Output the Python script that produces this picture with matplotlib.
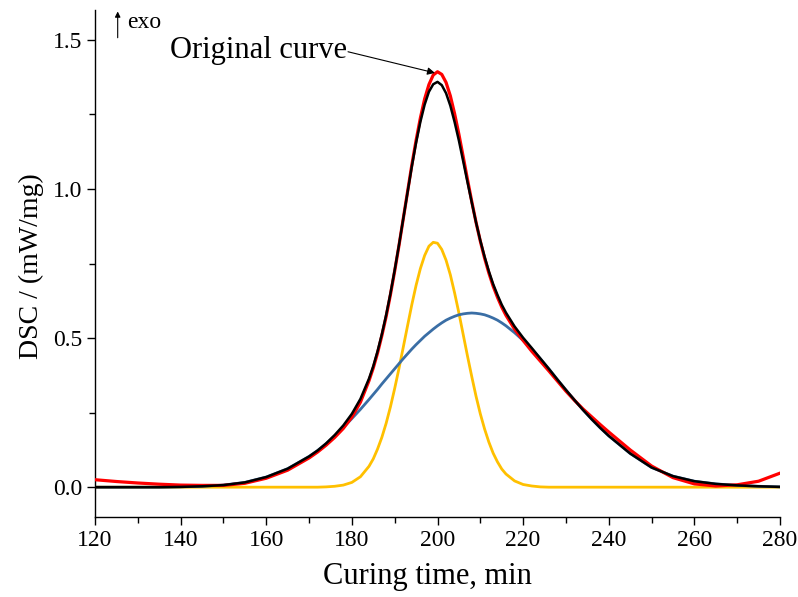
import matplotlib
matplotlib.use("Agg")
import matplotlib.pyplot as plt
from matplotlib.ticker import MultipleLocator

plt.rcParams['font.family'] = ['Liberation Serif', 'DejaVu Serif']

time_min = [120, 125, 130, 135, 140, 145, 150, 155, 160, 165, 170,
            172, 174, 176, 178, 180, 182,
            184, 185, 186, 187, 188, 189, 190, 191, 192, 193, 194, 195,
            196, 197, 198, 199, 200, 201, 202, 203, 204, 205, 206, 207,
            208, 209, 210, 211, 212, 213, 214, 215, 216,
            218, 220, 222, 224, 226, 228, 230,
            232, 234, 236, 238, 240, 245, 250, 255, 260, 265,
            270, 275, 280]

original = [0.025, 0.019, 0.014, 0.010, 0.007, 0.006, 0.006, 0.013, 0.030, 0.057, 0.098,
            0.118, 0.141, 0.167, 0.197, 0.235, 0.285,
            0.357, 0.400, 0.450, 0.508, 0.572, 0.645, 0.725, 0.810, 0.900, 0.990, 1.080, 1.163,
            1.238, 1.302, 1.350, 1.382, 1.393, 1.384, 1.357, 1.312, 1.252, 1.183, 1.108, 1.032,
            0.958, 0.888, 0.825, 0.768, 0.718, 0.674, 0.637, 0.604, 0.576,
            0.530, 0.492, 0.456, 0.423, 0.390, 0.356, 0.322,
            0.291, 0.262, 0.236, 0.210, 0.185, 0.125, 0.071, 0.032, 0.011, 0.004,
            0.008, 0.020, 0.047]

fitted_sum = [0.000, 0.000, 0.000, 0.000, 0.001, 0.003, 0.007, 0.016, 0.034, 0.062, 0.103,
              0.123, 0.147, 0.175, 0.207, 0.246, 0.296,
              0.364, 0.406, 0.456, 0.513, 0.577, 0.649, 0.728, 0.812, 0.900, 0.988, 1.075, 1.155,
              1.225, 1.283, 1.326, 1.351, 1.359, 1.348, 1.321, 1.279, 1.224, 1.162, 1.093, 1.023,
              0.955, 0.888, 0.827, 0.773, 0.724, 0.681, 0.645, 0.612, 0.585,
              0.539, 0.501, 0.467, 0.432, 0.397, 0.361, 0.326,
              0.292, 0.259, 0.228, 0.199, 0.172, 0.113, 0.066, 0.037, 0.020, 0.011,
              0.006, 0.003, 0.001]

peak_broad = [0.000, 0.000, 0.000, 0.000, 0.001, 0.003, 0.007, 0.016, 0.034, 0.062, 0.103,
              0.123, 0.146, 0.172, 0.200, 0.230, 0.261,
              0.294, 0.311, 0.328, 0.346, 0.363, 0.380, 0.397, 0.414, 0.431, 0.447, 0.463, 0.478,
              0.492, 0.506, 0.518, 0.530, 0.541, 0.551, 0.560, 0.567, 0.573, 0.578, 0.581, 0.583,
              0.584, 0.583, 0.581, 0.578, 0.573, 0.567, 0.560, 0.551, 0.541,
              0.518, 0.492, 0.463, 0.431, 0.397, 0.361, 0.326,
              0.292, 0.259, 0.228, 0.199, 0.172, 0.113, 0.066, 0.037, 0.020, 0.011,
              0.006, 0.003, 0.001]

peak_narrow = [0.0, 0.0, 0.0, 0.0, 0.0, 0.0, 0.0, 0.0, 0.0, 0.0, 0.0,
               0.000, 0.001, 0.003, 0.007, 0.016, 0.035,
               0.070, 0.095, 0.128, 0.167, 0.214, 0.269, 0.331, 0.398, 0.469, 0.541, 0.612, 0.677,
               0.733, 0.777, 0.808, 0.821, 0.818, 0.797, 0.761, 0.712, 0.651, 0.584, 0.512, 0.440,
               0.371, 0.305, 0.246, 0.195, 0.151, 0.114, 0.085, 0.061, 0.044,
               0.021, 0.009, 0.004, 0.001, 0.000, 0.0, 0.0,
               0.0, 0.0, 0.0, 0.0, 0.0, 0.0, 0.0, 0.0, 0.0, 0.0,
               0.0, 0.0, 0.0]

fig = plt.figure(figsize=(7.98, 5.97), dpi=100)
ax = fig.add_axes([95/798, 1 - 517/597, (780 - 95)/798, (517 - 10)/597])

lw = 2.0
ax.plot(time_min, peak_narrow, color='#FFC000', lw=lw, zorder=2, solid_joinstyle='round')
ax.plot(time_min, peak_broad, color='#3A6EA5', lw=lw, zorder=2, solid_joinstyle='round')
ax.plot(time_min, original, color='#FF0000', lw=lw + 0.3, zorder=3, solid_joinstyle='round')
ax.plot(time_min, fitted_sum, color='black', lw=lw - 0.2, zorder=4, solid_joinstyle='round')

ax.set_xlim(120, 280)
ax.set_ylim(-0.1, 1.6)
ax.xaxis.set_major_locator(MultipleLocator(20))
ax.xaxis.set_minor_locator(MultipleLocator(10))
ax.yaxis.set_major_locator(MultipleLocator(0.5))
ax.yaxis.set_minor_locator(MultipleLocator(0.25))
ax.yaxis.set_major_formatter(plt.FormatStrFormatter('%.1f'))

for side in ('top', 'right'):
    ax.spines[side].set_visible(False)
for side in ('left', 'bottom'):
    ax.spines[side].set_linewidth(1.0)

ax.tick_params(which='major', direction='out', length=6, width=1.0, labelsize=17, pad=3)
ax.tick_params(which='minor', direction='out', length=4, width=1.0)

ax.set_xlabel('Curing time, min', fontsize=22)
ax.xaxis.set_label_coords(0.485, -0.088)
ax.set_ylabel('DSC / (mW/mg)', fontsize=20)
ax.yaxis.set_label_coords(-0.075, 0.495)

ax.text(137.5, 1.440, 'Original curve', fontsize=22, va='baseline', ha='left')
ax.annotate('', xy=(199.4, 1.389), xytext=(179.1, 1.460),
            arrowprops=dict(arrowstyle='-|>', color='black', lw=0.8,
                            mutation_scale=11, shrinkA=0, shrinkB=0))

ax.annotate('', xy=(125.3, 1.595), xytext=(125.3, 1.507),
            arrowprops=dict(arrowstyle='-|>', color='black', lw=0.8,
                            mutation_scale=8, shrinkA=0, shrinkB=0))
ax.text(127.5, 1.540, 'exo', fontsize=17, va='baseline', ha='left')

fig.savefig('out.png', dpi=100)
